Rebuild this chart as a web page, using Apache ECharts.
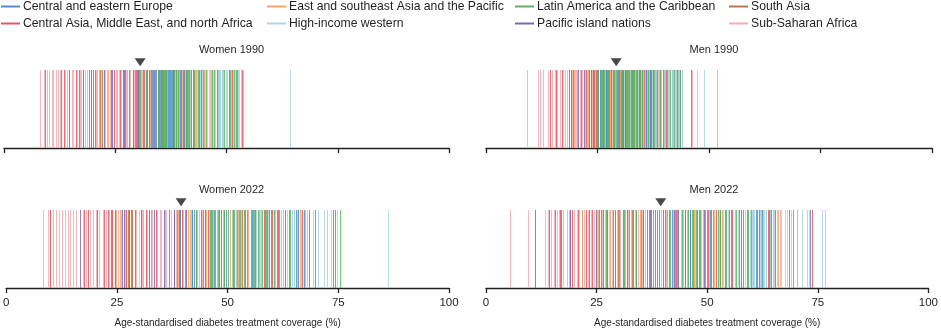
<!DOCTYPE html>
<html>
<head>
<meta charset="utf-8">
<script src="https://cdn.jsdelivr.net/npm/echarts@6/dist/echarts.min.js"></script>
<style>html,body{margin:0;padding:0;background:#fff}#c{width:941px;height:331px}</style>
</head>
<body>
<div id="c"></div>
<script>
// ---- Data ----
const regionNames = ['Central and eastern Europe', 'East and southeast Asia and the Pacific', 'Latin America and the Caribbean', 'South Asia',
  'Central Asia, Middle East, and north Africa', 'High-income western', 'Pacific island nations', 'Sub-Saharan Africa'];
const panelTitles = ['Women 1990', 'Men 1990', 'Women 2022', 'Men 2022'];
const medians = [30.6, 29.2, 39.5, 39.5];
const tickValues = [0, 25, 50, 75, 100];

// Women 1990
const w1990_cee = [20.5, 28.9, 30.3, 34.2, 35.0, 36.4, 38.0, 31.8, 33.2, 37.3, 39.5, 40.8, 41.2, 42.1, 37.7, 52.4, 47.8, 34.8, 36.9, 29.9];
const w1990_eseap = [21.3, 23.4, 25.4, 30.7, 33.4, 36.7, 38.9, 41.8, 42.8, 27.6, 29.1, 31.3, 34.9, 40.0, 43.2, 45.0, 39.3, 32.9, 48.4, 51.0];
const w1990_lac = [24.0, 31.2, 32.0, 33.4, 34.5, 35.4, 36.3, 37.5, 38.2, 39.0, 40.3, 41.4, 42.0, 42.7, 43.5, 44.7, 45.3, 46.8, 48.0, 48.9, 50.8, 51.6, 52.2, 29.5, 30.6, 33.9, 35.9, 37.1, 38.7, 40.9, 43.0, 47.2, 49.5];
const w1990_sa = [21.6, 22.1, 35.6, 38.5, 24.0, 42.4];
const w1990_camena = [9.3, 12.8, 13.4, 14.7, 16.2, 16.9, 19.2, 20.1, 24.8, 26.0, 28.1, 29.7, 31.5, 32.2, 33.0, 34.6, 35.2, 36.1, 37.0, 38.3, 39.1, 40.2, 41.5, 43.8, 44.2, 46.5, 50.5, 51.2, 53.5, 27.2];
const w1990_hiw = [38.4, 40.6, 41.7, 43.4, 44.0, 45.6, 46.0, 46.6, 47.0, 47.5, 48.1, 48.6, 49.1, 49.8, 50.1, 51.8, 52.5, 52.9, 53.2, 45.1, 42.9, 44.5, 50.0, 64.3];
const w1990_pin = [17.7, 22.5, 26.7, 27.0, 32.6, 35.8, 38.7, 39.8, 40.5, 30.1, 24.2, 36.6, 41.0, 37.9, 33.6, 19.6];
const w1990_ssa = [8.2, 8.9, 9.6, 10.2, 10.8, 11.1, 11.7, 12.2, 12.6, 13.7, 14.2, 14.5, 15.3, 15.6, 16.5, 17.0, 17.4, 18.3, 18.7, 19.5, 20.7, 21.0, 21.9, 22.8, 23.2, 23.9, 25.2, 25.8, 26.4, 27.5, 28.4, 29.2, 30.0, 30.9, 32.1, 32.8, 33.9, 35.3, 36.0, 37.6, 39.4, 40.7, 42.5, 44.9, 46.2, 49.3, 51.4, 53.8];

// Men 1990
const m1990_cee = [24.1, 24.8, 25.6, 26.8, 28.4, 29.5, 30.4, 31.1, 32.0, 33.5, 34.2, 35.0, 35.9, 36.7, 37.4, 38.1, 41.8, 43.6, 39.2, 27.0];
const m1990_eseap = [19.8, 20.3, 22.9, 24.5, 26.6, 27.9, 29.0, 30.0, 31.4, 32.6, 33.6, 34.8, 36.0, 37.2, 38.3, 40.1, 42.0, 43.9, 39.0, 51.9];
const m1990_lac = [25.0, 25.9, 26.4, 27.3, 28.1, 28.8, 29.2, 29.9, 30.6, 31.3, 31.9, 32.4, 33.1, 33.7, 34.3, 34.9, 35.6, 36.2, 36.9, 37.6, 38.0, 38.4, 39.0, 40.0, 40.6, 41.3, 42.2, 43.4, 30.2, 35.3, 36.4, 32.8, 34.6];
const m1990_sa = [23.6, 24.2, 27.2, 30.7, 33.2, 36.5];
const m1990_camena = [14.4, 15.8, 17.0, 18.5, 19.6, 21.3, 22.5, 23.5, 25.8, 26.9, 27.6, 28.6, 29.3, 30.1, 30.8, 31.6, 32.3, 33.0, 33.9, 34.6, 35.5, 36.8, 37.9, 38.9, 39.6, 42.8, 43.0, 46.0, 24.6, 40.4];
const m1990_hiw = [31.0, 32.2, 33.4, 34.0, 35.1, 36.1, 37.3, 38.2, 39.3, 40.2, 41.1, 42.3, 43.1, 44.0, 38.8, 41.6, 36.6, 48.8, 47.3, 39.8, 42.6, 35.7, 37.9, 40.7];
const m1990_pin = [19.0, 20.6, 21.9, 24.0, 25.2, 26.3, 27.4, 28.0, 29.8, 31.2, 32.8, 34.4, 35.8, 37.0, 23.0, 30.5];
const m1990_ssa = [9.1, 11.6, 12.0, 12.7, 14.0, 14.8, 15.5, 16.0, 16.6, 17.2, 17.8, 18.2, 18.6, 19.3, 19.9, 20.5, 21.0, 21.6, 22.1, 22.7, 23.2, 23.8, 24.3, 24.9, 25.5, 26.0, 26.6, 27.1, 27.8, 28.3, 28.9, 29.6, 30.3, 31.0, 31.8, 32.5, 33.3, 34.1, 35.2, 36.3, 37.5, 38.6, 39.8, 41.0, 42.5, 43.2, 46.3, 20.2];

// Women 2022
const w2022_cee = [39.3, 41.9, 42.5, 44.1, 46.3, 49.6, 51.2, 55.5, 58.4, 58.9, 59.3, 61.2, 62.9, 65.4, 66.0, 67.2, 73.9, 74.3, 47.0, 53.9];
const w2022_eseap = [24.7, 25.6, 32.6, 41.0, 41.6, 35.9, 38.7, 43.2, 45.2, 47.6, 50.6, 52.3, 54.6, 57.0, 59.7, 62.6, 65.8, 66.4, 30.9, 48.9];
const w2022_lac = [38.6, 40.3, 42.8, 43.9, 45.0, 46.0, 46.5, 47.2, 47.8, 48.4, 50.0, 50.9, 51.5, 52.1, 52.8, 53.7, 54.4, 55.2, 56.0, 56.8, 57.8, 58.6, 59.8, 60.4, 61.7, 63.0, 64.0, 65.0, 75.3, 49.3, 52.5, 55.8, 54.0];
const w2022_sa = [27.4, 28.3, 39.2, 48.6, 32.8, 44.5];
const w2022_camena = [9.8, 17.6, 18.4, 22.2, 22.9, 23.6, 24.0, 28.1, 29.0, 31.5, 33.8, 36.8, 38.0, 42.9, 44.8, 48.0, 49.2, 53.3, 56.2, 60.0, 61.4, 63.8, 66.9, 67.5, 68.3, 69.7, 45.5, 39.8, 27.0, 58.2];
const w2022_hiw = [30.0, 46.6, 51.0, 51.8, 53.1, 56.5, 59.1, 62.1, 63.4, 64.5, 65.1, 65.7, 66.6, 67.4, 68.0, 69.2, 70.4, 71.7, 72.5, 73.4, 74.6, 60.8, 57.3, 86.3];
const w2022_pin = [16.7, 26.1, 26.6, 33.4, 39.0, 27.7, 30.5, 35.7, 40.6, 20.6, 32.2, 46.8, 60.7, 24.5, 37.8, 42.0];
const w2022_ssa = [8.3, 9.4, 10.0, 10.6, 11.2, 11.9, 12.6, 13.3, 14.0, 14.4, 15.0, 15.8, 17.3, 18.0, 18.9, 19.5, 20.2, 21.0, 21.8, 22.6, 23.3, 24.0, 25.2, 26.0, 26.8, 27.8, 28.5, 29.3, 30.6, 31.9, 33.0, 34.1, 35.0, 36.2, 37.3, 38.4, 40.0, 41.7, 43.6, 44.3, 45.8, 48.6, 51.8, 53.0, 57.5, 62.0, 64.6, 34.8];

// Men 2022
const m2022_cee = [37.4, 40.4, 42.0, 44.9, 48.2, 50.6, 52.8, 54.0, 55.3, 57.2, 59.0, 61.0, 61.3, 62.4, 64.5, 65.3, 68.4, 70.2, 73.3, 46.2];
const m2022_eseap = [18.7, 21.8, 25.4, 28.0, 31.5, 34.9, 38.7, 40.8, 44.6, 45.4, 47.0, 49.0, 51.5, 53.4, 56.3, 58.0, 60.3, 62.1, 66.0, 36.8];
const m2022_lac = [27.1, 30.0, 31.2, 32.4, 33.9, 35.0, 36.8, 37.8, 38.6, 40.0, 41.7, 43.1, 44.2, 45.6, 46.5, 47.5, 49.6, 51.2, 52.5, 53.0, 54.2, 55.0, 56.6, 58.2, 59.2, 60.0, 61.8, 63.3, 64.2, 69.3, 48.4, 50.0, 42.8];
const m2022_sa = [26.0, 29.9, 33.0, 38.1, 41.0, 46.8];
const m2022_camena = [14.3, 15.6, 16.8, 17.0, 19.4, 20.8, 22.5, 23.2, 23.9, 25.6, 28.8, 30.9, 33.2, 36.4, 39.0, 40.1, 41.3, 43.0, 47.8, 50.2, 50.9, 52.0, 55.6, 57.6, 61.6, 63.7, 63.9, 73.8, 26.5, 45.0];
const m2022_hiw = [52.6, 54.7, 56.2, 58.6, 59.6, 60.6, 62.0, 62.9, 63.3, 64.2, 65.0, 65.8, 66.6, 67.5, 68.0, 70.2, 71.4, 72.6, 73.0, 76.0, 76.7, 57.0, 60.2, 69.0];
const m2022_pin = [11.0, 19.0, 21.7, 27.4, 29.2, 31.8, 34.0, 37.0, 39.9, 42.4, 43.5, 46.0, 49.3, 35.4, 24.8, 52.8];
const m2022_ssa = [5.4, 9.4, 13.3, 14.0, 14.6, 15.3, 16.0, 16.6, 17.3, 18.2, 19.0, 19.8, 20.5, 21.1, 22.2, 23.0, 23.7, 24.5, 25.1, 26.2, 26.9, 27.8, 28.5, 29.6, 30.4, 31.1, 32.0, 32.8, 33.6, 34.4, 35.3, 36.0, 37.2, 38.3, 39.5, 40.6, 42.3, 44.1, 47.3, 48.7, 50.4, 53.6, 55.0, 57.6, 62.6, 64.9, 66.4, 45.6];

const panels = [
  [w1990_cee, w1990_eseap, w1990_lac, w1990_sa, w1990_camena, w1990_hiw, w1990_pin, w1990_ssa],
  [m1990_cee, m1990_eseap, m1990_lac, m1990_sa, m1990_camena, m1990_hiw, m1990_pin, m1990_ssa],
  [w2022_cee, w2022_eseap, w2022_lac, w2022_sa, w2022_camena, w2022_hiw, w2022_pin, w2022_ssa],
  [m2022_cee, m2022_eseap, m2022_lac, m2022_sa, m2022_camena, m2022_hiw, m2022_pin, m2022_ssa]
];

// ---- Styles ----
const colors = ['#4a92d3', '#f6a765', '#59b65c', '#c2763f', '#e9545e', '#a8d6e2', '#7a69b2', '#f5aab3'];
const FONT = '"Liberation Sans", Arial, sans-serif';
const gridPos = [
  {left: 4, top: 70, width: 445, height: 78},
  {left: 486, top: 70, width: 446, height: 78},
  {left: 4, top: 210, width: 445, height: 78},
  {left: 486, top: 210, width: 446, height: 78}
];
const drawOrder = [7, 4, 6, 3, 1, 0, 2, 5];

const series = [];
panels.forEach((pdata, pi) => {
  drawOrder.forEach(ri => {
    series.push({
      type: 'custom', name: regionNames[ri], xAxisIndex: pi, yAxisIndex: pi,
      data: pdata[ri].map(v => [v]),
      encode: {x: 0},
      silent: true,
      renderItem: (params, api) => {
        const v = api.value(0);
        const a = api.coord([v, 0]);
        const b = api.coord([v, 1]);
        const x = Math.round(a[0]) + 0.5;
        return {type: 'line', shape: {x1: x, y1: a[1], x2: x, y2: b[1]},
          style: {stroke: colors[ri], lineWidth: 1, opacity: 0.85}};
      }
    });
  });
  series.push({
    type: 'scatter', xAxisIndex: pi, yAxisIndex: pi, clip: false, silent: true,
    data: [[medians[pi], 1.1]], symbol: 'triangle', symbolRotate: 180, symbolSize: [11, 8],
    itemStyle: {color: '#1a1a1a'}, z: 10
  });
});

const legendCols = [
  {left: 1, items: [0, 4]}, {left: 267, items: [1, 5]}, {left: 515, items: [2, 6]}, {left: 729, items: [3, 7]}
];

const option = {
  animation: false,
  color: colors,
  textStyle: {fontFamily: FONT},
  title: panelTitles.map((t, i) => ({
    text: t, left: gridPos[i].left + gridPos[i].width / 2, textAlign: 'center', top: i < 2 ? 39 : 179,
    textStyle: {fontSize: 11, fontWeight: 'normal', color: '#231f20', fontFamily: FONT}
  })),
  legend: legendCols.map(c => ({
    left: c.left, top: 0, orient: 'vertical', itemGap: 4, itemWidth: 19, itemHeight: 2, icon: 'rect',
    padding: 0, selectedMode: false,
    data: c.items.map(ri => ({name: regionNames[ri], itemStyle: {color: colors[ri]}})),
    textStyle: {fontSize: 12.2, color: '#231f20', fontFamily: FONT, lineHeight: 13, padding: [0, 0, 0, -2]}
  })),
  grid: gridPos.map(g => Object.assign({containLabel: false}, g)),
  xAxis: gridPos.map((g, i) => ({
    type: 'value', gridIndex: i, min: 0, max: 100, interval: 25,
    axisLine: {show: true, onZero: false, lineStyle: {color: '#231f20', width: 1.3}},
    axisTick: {show: true, length: 5, lineStyle: {color: '#231f20', width: 1.3}},
    splitLine: {show: false},
    axisLabel: {show: i >= 2, fontSize: 11.5, color: '#231f20', margin: 9, fontFamily: FONT},
    name: i >= 2 ? 'Age-standardised diabetes treatment coverage (%)' : '',
    nameLocation: 'middle', nameGap: 30,
    nameTextStyle: {fontSize: 10, color: '#231f20', fontFamily: FONT}
  })),
  yAxis: gridPos.map((g, i) => ({type: 'value', gridIndex: i, min: 0, max: 1, show: false})),
  series: series
};

const chart = echarts.init(document.getElementById('c'), null, {renderer: 'canvas'});
chart.setOption(option);
</script>
</body>
</html>
